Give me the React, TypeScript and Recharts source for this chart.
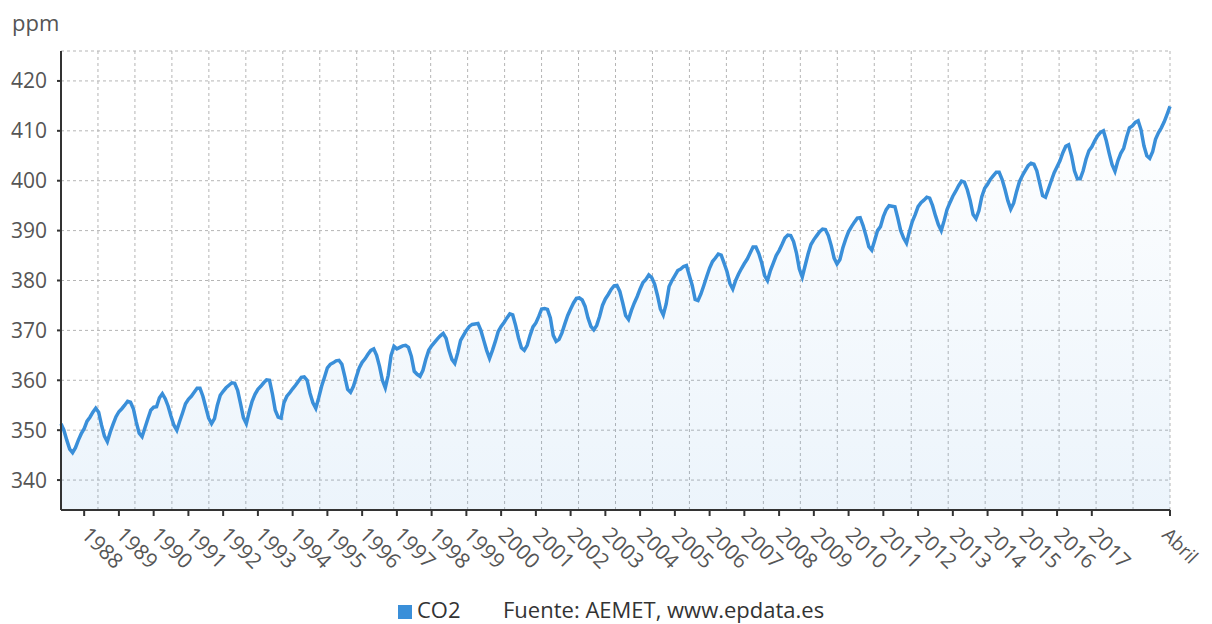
import { AreaChart, Area, XAxis, YAxis, CartesianGrid } from 'recharts';

// Serie mensual de CO2 (ppm), de mayo de 1987 a abril de 2019
const START_YEAR = 1987;
const START_MONTH = 5;

const CO2 = [
  351.3, 350.0, 348.0, 346.2, 345.5, 346.5, 348.0, 349.3, // 1987 (may-dic)
  350.3, 351.8, 352.6, 353.6, 354.4, 353.6, 351.0, 348.8, 347.7, 349.6, 351.2, 352.7, // 1988
  353.7, 354.3, 355.0, 355.8, 355.6, 354.3, 351.6, 349.4, 348.7, 350.5, 352.3, 354.0, // 1989
  354.6, 354.7, 356.5, 357.3, 356.3, 354.8, 352.8, 351.0, 350.0, 351.8, 353.5, 355.3, // 1990
  356.2, 356.8, 357.6, 358.4, 358.4, 356.8, 354.6, 352.4, 351.3, 352.3, 355.0, 357.0, // 1991
  357.8, 358.5, 359.0, 359.5, 359.4, 358.0, 355.3, 352.5, 351.3, 353.7, 355.8, 357.2, // 1992
  358.2, 358.8, 359.5, 360.1, 360.0, 357.3, 354.0, 352.6, 352.4, 355.5, 356.8, 357.5, // 1993
  358.3, 359.0, 359.8, 360.6, 360.7, 360.0, 357.4, 355.5, 354.4, 356.5, 358.8, 360.6, // 1994
  362.5, 363.2, 363.5, 363.9, 364.0, 363.2, 360.8, 358.2, 357.6, 358.8, 360.7, 362.5, // 1995
  363.6, 364.3, 365.2, 366.0, 366.3, 365.0, 362.8, 360.0, 358.5, 361.0, 365.0, 366.8, // 1996
  366.3, 366.6, 366.9, 367.0, 366.6, 364.8, 361.8, 361.2, 360.8, 362.0, 364.2, 366.0, // 1997
  366.9, 367.6, 368.3, 368.9, 369.4, 368.4, 366.0, 364.2, 363.4, 365.5, 368.0, 369.0, // 1998
  370.0, 370.8, 371.2, 371.3, 371.4, 370.0, 368.0, 366.0, 364.4, 366.0, 367.8, 369.8, // 1999
  370.8, 371.6, 372.5, 373.3, 373.1, 371.0, 368.5, 366.5, 366.0, 367.0, 369.0, 370.7, // 2000
  371.5, 372.8, 374.3, 374.4, 374.2, 372.5, 369.0, 367.8, 368.2, 369.5, 371.3, 373.0, // 2001
  374.3, 375.5, 376.4, 376.5, 376.1, 374.8, 372.5, 370.8, 370.1, 371.0, 372.8, 375.0, // 2002
  376.3, 377.2, 378.2, 378.9, 379.0, 377.8, 375.5, 373.0, 372.2, 374.0, 375.5, 376.8, // 2003
  378.3, 379.6, 380.2, 381.1, 380.6, 379.3, 377.0, 374.3, 373.1, 375.3, 378.8, 380.0, // 2004
  381.0, 382.0, 382.3, 382.8, 383.0, 381.0, 379.0, 376.2, 376.0, 377.3, 379.0, 380.8, // 2005
  382.5, 383.8, 384.5, 385.3, 385.1, 383.5, 381.8, 379.4, 378.3, 380.0, 381.3, 382.4, // 2006
  383.4, 384.3, 385.5, 386.7, 386.7, 385.4, 383.5, 381.0, 380.0, 382.0, 383.5, 385.0, // 2007
  386.0, 387.2, 388.5, 389.1, 389.0, 387.8, 385.5, 382.3, 380.7, 383.0, 385.3, 387.2, // 2008
  388.2, 389.0, 389.8, 390.3, 390.2, 389.0, 387.0, 384.5, 383.3, 384.2, 386.5, 388.3, // 2009
  389.8, 390.8, 391.7, 392.5, 392.6, 391.0, 389.0, 386.8, 386.1, 388.0, 390.0, 390.8, // 2010
  392.8, 394.2, 395.0, 394.9, 394.8, 392.5, 390.0, 388.5, 387.5, 389.8, 391.8, 393.2, // 2011
  394.8, 395.6, 396.1, 396.7, 396.5, 395.0, 393.0, 391.2, 390.0, 392.0, 394.2, 395.6, // 2012
  396.9, 397.9, 399.0, 399.9, 399.7, 398.2, 396.0, 393.2, 392.4, 394.0, 396.8, 398.5, // 2013
  399.3, 400.3, 401.0, 401.7, 401.7, 400.3, 398.3, 396.0, 394.3, 395.5, 397.8, 399.8, // 2014
  401.0, 402.0, 403.0, 403.5, 403.3, 402.0, 399.5, 397.0, 396.7, 398.3, 400.0, 401.6, // 2015
  402.8, 404.0, 405.6, 406.9, 407.2, 405.0, 402.0, 400.4, 400.4, 402.0, 404.3, 406.0, // 2016
  406.8, 408.0, 409.0, 409.7, 410.0, 408.0, 405.5, 403.2, 401.9, 404.0, 405.5, 406.5, // 2017
  408.7, 410.6, 411.0, 411.7, 412.0, 410.2, 407.0, 405.0, 404.5, 405.8, 408.3, 409.6, // 2018
  410.6, 411.8, 413.3, 414.9, // 2019 (ene-abr)
];

const YEAR_LABELS = [
  '1988', '1989', '1990', '1991', '1992', '1993', '1994', '1995', '1996', '1997',
  '1998', '1999', '2000', '2001', '2002', '2003', '2004', '2005', '2006', '2007',
  '2008', '2009', '2010', '2011', '2012', '2013', '2014', '2015', '2016', '2017',
];
const LAST_LABEL = 'Abril';
const Y_TICKS = [340, 350, 360, 370, 380, 390, 400, 410, 420];

const SERIES_NAME = 'CO2';
const SOURCE = 'Fuente: AEMET, www.epdata.es';
const UNIT = 'ppm';

const BLUE = '#3a8fd9';

const data = CO2.map((v, i) => ({ idx: i, co2: v }));

const janIndex = (year: number) => (year - START_YEAR) * 12 + (1 - START_MONTH);
const lastIdx = CO2.length - 1;
const tickLabels = new Map<number, string>();
YEAR_LABELS.forEach(y => tickLabels.set(janIndex(Number(y)), y));
tickLabels.set(lastIdx, LAST_LABEL);
const xTicks = Array.from(tickLabels.keys());

const XTick = ({ x, y, payload }: any) => {
  const isLast = payload.value === lastIdx;
  // la última etiqueta se acerca un poco para que no se salga del lienzo
  const ax = isLast ? x - 9 : x - 4;
  const ay = y + 18;
  return (
    <text x={ax} y={ay} transform={`rotate(45, ${ax}, ${ay})`} textAnchor="start"
      fill="#555" fontSize={isLast ? 19 : 21}>
      {tickLabels.get(payload.value)}
    </text>
  );
};

export default function App() {
  return (
    <div style={{ position: 'absolute', left: 0, top: 0, width: 1212, height: 624, background: '#fff',
      fontFamily: '"Open Sans", sans-serif' }}>
      <div style={{ position: 'absolute', left: 12, top: 7, fontSize: 22, color: '#555' }}>{UNIT}</div>
      <AreaChart width={1212} height={624} data={data} margin={{ top: 51, right: 42, bottom: 0, left: 0 }}>
        <defs>
          <linearGradient id="co2Fill" x1="0" y1="0" x2="0" y2="1">
            <stop offset="0%" stopColor={BLUE} stopOpacity={0.01} />
            <stop offset="100%" stopColor={BLUE} stopOpacity={0.16} />
          </linearGradient>
        </defs>
        <CartesianGrid stroke="#b5b5b5" strokeDasharray="3 3"
          verticalCoordinatesGenerator={({ offset }: any) =>
            Array.from({ length: 30 }, (_, k) => offset.left + ((k + 1) * offset.width) / 30)} />
        <XAxis dataKey="idx" type="number" domain={[0, lastIdx]} ticks={xTicks} interval={0}
          height={114} tick={<XTick />} tickSize={6}
          axisLine={{ stroke: '#333', strokeWidth: 2 }} tickLine={{ stroke: '#333', strokeWidth: 2 }} />
        <YAxis type="number" domain={[334, 426]} ticks={Y_TICKS} interval={0} width={61}
          allowDataOverflow tickSize={4} tickMargin={10}
          tick={{ fill: '#555', fontSize: 21 }}
          axisLine={{ stroke: '#333', strokeWidth: 2 }} tickLine={{ stroke: '#333', strokeWidth: 2 }} />
        <Area type="linear" dataKey="co2" name={SERIES_NAME} stroke={BLUE} strokeWidth={3.5}
          fill="url(#co2Fill)" dot={false} activeDot={false} isAnimationActive={false} />
      </AreaChart>
      <div style={{ position: 'absolute', left: 398, top: 605, width: 14, height: 14, background: BLUE }} />
      <div style={{ position: 'absolute', left: 417, top: 594, fontSize: 22, lineHeight: '30px', color: '#333' }}>{SERIES_NAME}</div>
      <div style={{ position: 'absolute', left: 503, top: 594, fontSize: 22, lineHeight: '30px', color: '#333' }}>{SOURCE}</div>
    </div>
  );
}
